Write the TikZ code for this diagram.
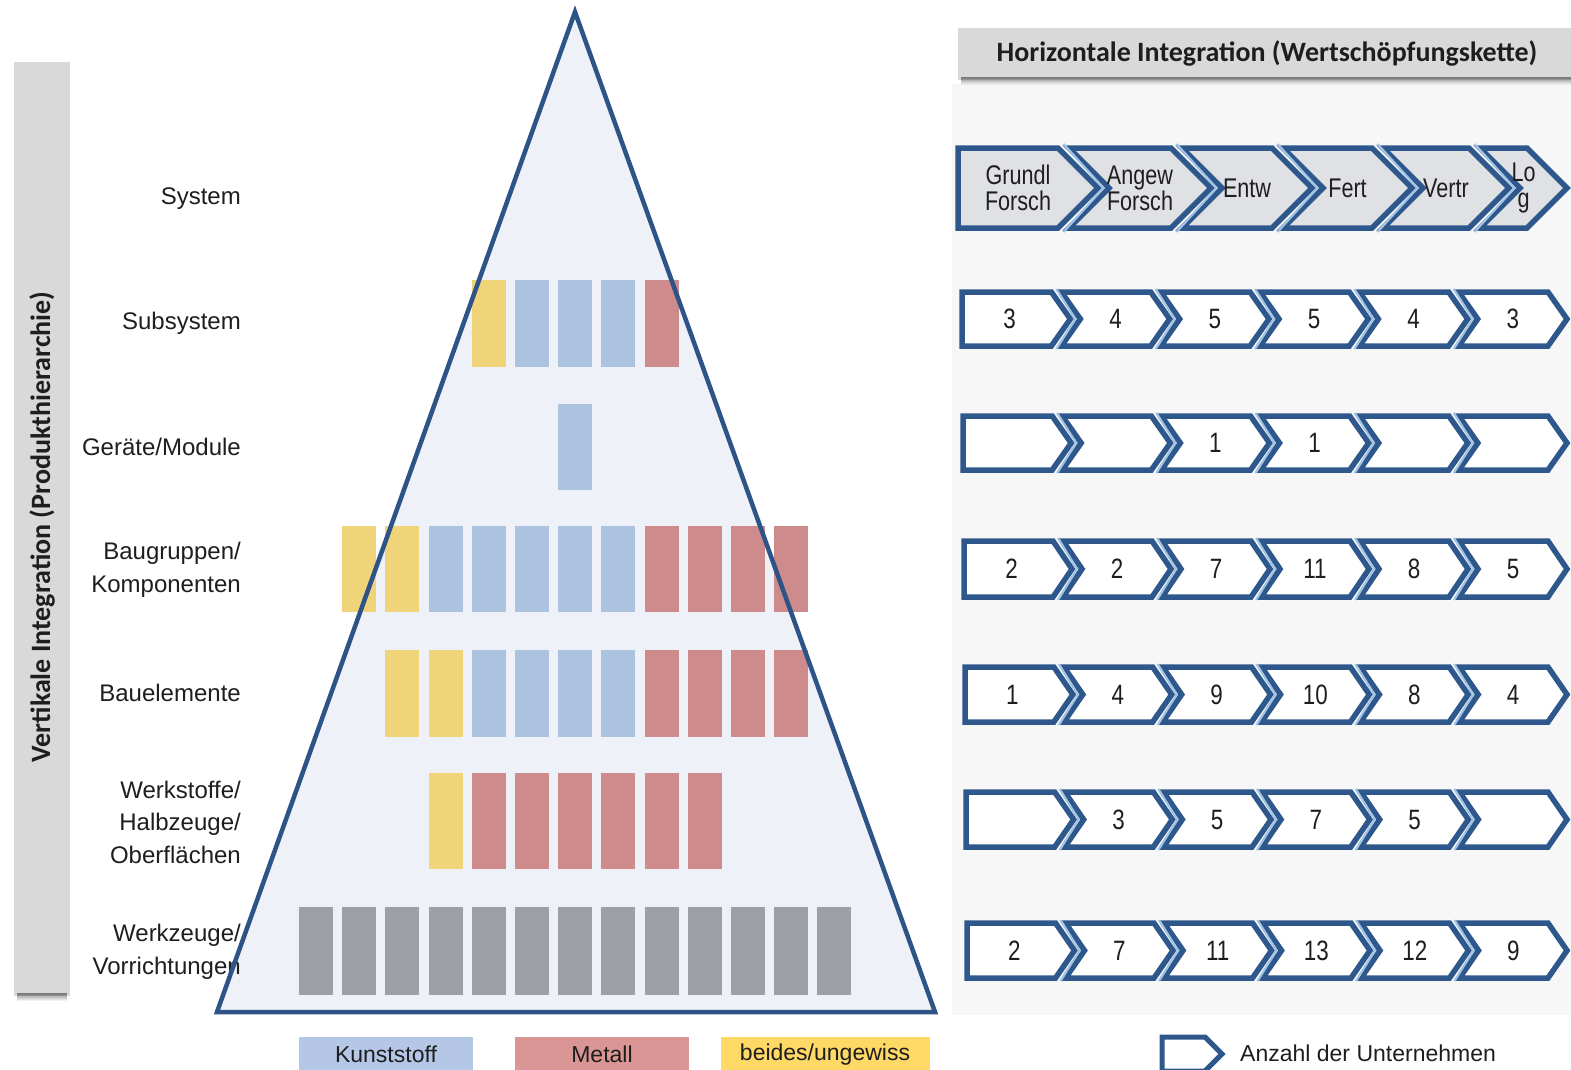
\documentclass[tikz,border=0pt]{standalone}
\usepackage{fontspec}
\setmainfont{Liberation Sans}
\newfontfamily\headfont{Carlito}
\newfontfamily\narrowfont{Liberation Sans}[FakeStretch=0.8]

\definecolor{triline}{RGB}{46,84,135}
\definecolor{trifill}{RGB}{238,242,248}
\definecolor{ybar}{RGB}{240,212,122}
\definecolor{bbar}{RGB}{172,195,224}
\definecolor{rbar}{RGB}{206,139,140}
\definecolor{gbar}{RGB}{156,159,163}
\definecolor{legK}{RGB}{180,199,231}
\definecolor{legM}{RGB}{218,150,148}
\definecolor{legB}{RGB}{255,217,102}
\definecolor{chevline}{RGB}{46,88,140}
\definecolor{chevsep}{RGB}{160,195,230}
\definecolor{chevhead}{RGB}{224,225,228}
\definecolor{panel}{RGB}{247,247,247}
\definecolor{titlebox}{RGB}{217,217,217}
\definecolor{ink}{RGB}{30,30,30}

\tikzset{
  bar/.style={inner sep=0pt, minimum width=34pt, anchor=north},
  levellabel/.style={anchor=east, align=right, text=ink, inner sep=0pt,
    font=\fontsize{24}{32.5}\selectfont},
  chevshape/.style={draw=chevline, line width=5.5pt, line join=miter, miter limit=10},
  chevsplit/.style={draw=chevsep, line width=2.2pt},
  chevtext/.style={text=ink, align=center, inner sep=0pt,
    font=\narrowfont\fontsize{28}{26}\selectfont},
  headtext/.style={text=ink, align=center, inner sep=0pt,
    font=\narrowfont\fontsize{27}{26}\selectfont},
  legendbox/.style={inner sep=0pt, minimum height=35pt, anchor=north, text=ink,
    font=\fontsize{23}{23}\selectfont},
  banner/.style={fill=titlebox},
  bannertext/.style={text=ink, inner sep=0pt,
    font=\headfont\bfseries\fontsize{28}{30}\selectfont},
}

% soft shadow along the lower edge of a banner: left, right, bottom
\newcommand\undershadow[3]{%
  \foreach \j in {1,...,8} {
    \fill[black, opacity={0.5*(1-\j/9)}] (#1+3,#3+\j-4) rectangle (#2-3,#3+\j-3);
  }%
}

% one row of material bars: name, top, height, index/colour list
\newcommand\barrow[4]{%
  \foreach \k/\c in {#4} {
    \node[bar, fill=\c, minimum height=#3pt] (#1-\k) at ({316+43.2*\k}, #2) {};
  }%
}

% one row of value chevrons: name, top, bottom, left shift, values
\newcommand\numrow[5]{%
  \pgfmathsetmacro\chLz{962+#4}%
  \pgfmathsetmacro\chP{(1558-\chLz)/6}%
  \pgfmathsetmacro\chM{(#2+#3)/2}%
  \foreach \v [count=\i from 0] in {#5} {%
    \pgfmathsetmacro\chL{\chLz+\i*\chP}%
    \pgfmathsetmacro\chR{\chL+\chP-10}%
    \ifnum\i=0
      \filldraw[chevshape, fill=white] (\chL,#2) -- (\chR,#2) -- (\chR+19,\chM)
        -- (\chR,#3) -- (\chL,#3) -- cycle;
      \pgfmathsetmacro\chT{(\chL+\chR)/2+3}%
    \else
      \filldraw[chevshape, fill=white] (\chL,#2) -- (\chR,#2) -- (\chR+19,\chM)
        -- (\chR,#3) -- (\chL,#3) -- (\chL+19,\chM) -- cycle;
      \draw[chevsplit] (\chL-5,#2-3) -- (\chL+14,\chM) -- (\chL-5,#3+3);
      \pgfmathsetmacro\chT{(\chL+\chR+19)/2}%
    \fi
    \node[chevtext] (#1-\i) at (\chT,\chM) {\v};
  }%
}

\begin{document}
\begin{tikzpicture}[x=1pt, y=-1pt]
\useasboundingbox (0,0) rectangle (1571,1069);
\fill[white] (0,0) rectangle (1571,1069);

% light panel behind the value chain
\fill[panel] (952,84) rectangle (1571,1015);

% vertical title bar
\path[banner] (14,62) rectangle (70,996);
\undershadow{14}{70}{996}
\node[bannertext, rotate=90] (vtitle) at (42,527) {Vertikale Integration (Produkthierarchie)};

% horizontal title bar
\path[banner] (958,28) rectangle (1580,80);
\undershadow{958}{1580}{80}
\node[bannertext] (htitle) at (1267,53) {Horizontale Integration (Wertschöpfungskette)};

% pyramid body
\fill[trifill] (575,12) -- (935,1012) -- (217,1012) -- cycle;

% material bars per level
\barrow{sub}{280}{87}{4/ybar,5/bbar,6/bbar,7/bbar,8/rbar}
\barrow{mod}{404}{86}{6/bbar}
\barrow{bgr}{526}{86}{1/ybar,2/ybar,3/bbar,4/bbar,5/bbar,6/bbar,7/bbar,8/rbar,9/rbar,10/rbar,11/rbar}
\barrow{bel}{650}{87}{2/ybar,3/ybar,4/bbar,5/bbar,6/bbar,7/bbar,8/rbar,9/rbar,10/rbar,11/rbar}
\barrow{wst}{773}{96}{3/ybar,4/rbar,5/rbar,6/rbar,7/rbar,8/rbar,9/rbar}
\barrow{wzg}{907}{88}{0/gbar,1/gbar,2/gbar,3/gbar,4/gbar,5/gbar,6/gbar,7/gbar,8/gbar,9/gbar,10/gbar,11/gbar,12/gbar}

% level names
\node[levellabel] (lsys) at (241,199) {System};
\node[levellabel] (lsub) at (241,323) {Subsystem};
\node[levellabel] (lmod) at (241,447) {Geräte/Module};
\node[levellabel] (lbgr) at (241,570) {Baugruppen/\\Komponenten};
\node[levellabel] (lbel) at (241,693) {Bauelemente};
\node[levellabel] (lwst) at (241,822) {Werkstoffe/\\Halbzeuge/\\Oberflächen};
\node[levellabel] (lwzg) at (241,952) {Werkzeuge/\\Vorrichtungen};

% pyramid outline
\draw[triline, line width=4.5pt, line join=miter] (575,12) -- (935,1012) -- (217,1012) -- cycle;

% value chain stages
\foreach \cL/\cR/\cT [count=\i from 0] in
  {958/1058/{Grundl\\Forsch}, 1069/1171/{Angew\\Forsch}, 1182/1272/{Entw},
   1283/1372/{Fert}, 1383/1469/{Vertr}, 1480/1527/{Lo\\g}} {
  \ifnum\i=0
    \filldraw[chevshape, fill=chevhead] (\cL,148) -- (\cR,148) -- (\cR+40,188)
      -- (\cR,228) -- (\cL,228) -- cycle;
    \node[headtext] (stage-\i) at (1018,188) {\cT};
  \else
    \filldraw[chevshape, fill=chevhead] (\cL,148) -- (\cR,148) -- (\cR+40,188)
      -- (\cR,228) -- (\cL,228) -- (\cL+40,188) -- cycle;
    \draw[chevsplit] (\cL-5.5,144) -- (\cL+34.5,188) -- (\cL-5.5,232);
    \node[headtext] (stage-\i) at ({(\cL+\cR+40)/2},188) {\cT};
  \fi
}

% company counts per level and stage
\numrow{csub}{292}{346}{0}{3,4,5,5,4,3}
\numrow{cmod}{416}{470}{1}{{},{},1,1,{},{}}
\numrow{cbgr}{541}{597}{2}{2,2,7,11,8,5}
\numrow{cbel}{667}{722}{3}{1,4,9,10,8,4}
\numrow{cwst}{792}{847}{4}{{},3,5,7,5,{}}
\numrow{cwzg}{923}{978}{5}{2,7,11,13,12,9}

% legend
\node[legendbox, fill=legK, minimum width=174pt] (legk) at (386,1037) {Kunststoff};
\node[legendbox, fill=legM, minimum width=174pt] (legm) at (602,1037) {Metall};
\node[legendbox, fill=legB, minimum width=209pt] (legb) at (825,1037) {beides/ungewiss};

\filldraw[draw=chevline, line width=5pt, line join=miter, fill=white]
  (1162,1037) -- (1205,1037) -- (1222,1054) -- (1205,1071) -- (1162,1071) -- cycle;
\node[anchor=west, inner sep=0pt, text=ink, font=\fontsize{23}{23}\selectfont] (legc) at (1240,1053) {Anzahl der Unternehmen};
\end{tikzpicture}
\end{document}
